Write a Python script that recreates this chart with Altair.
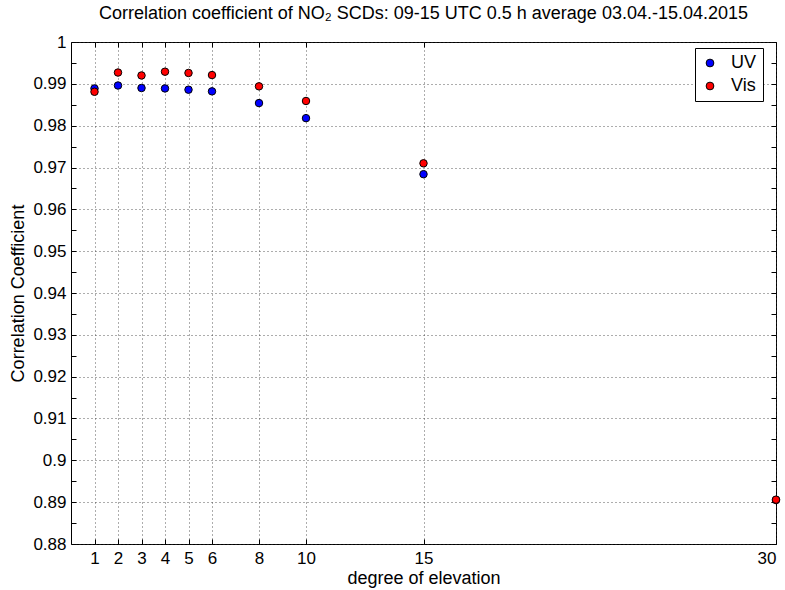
import altair as alt
import pandas as pd

elevation = [1, 2, 3, 4, 5, 6, 8, 10, 15, 30]
uv_corr = [0.9889, 0.9896, 0.9890, 0.9889, 0.9886, 0.9882, 0.9854, 0.9818, 0.9684, 0.8905]
vis_corr = [0.9881, 0.9927, 0.9920, 0.9929, 0.9926, 0.9921, 0.9894, 0.9859, 0.9710, 0.8906]
series = ["UV", "Vis"]
colors = ["#0000ff", "#ff0000"]
x_ticks = [1, 2, 3, 4, 5, 6, 8, 10, 15, 30]
y_major = [round(0.88 + 0.01 * i, 2) for i in range(13)]
y_minor = [round(0.88 + 0.005 * i, 3) for i in range(25)]

rows = []
for s, vals in zip(series, [uv_corr, vis_corr]):
    for e, v in zip(elevation, vals):
        rows.append({"elev": e, "corr": v, "series": s})
df = pd.DataFrame(rows)

W, H = 705, 502
TL = 5  # inward tick length
FONT = "Liberation Sans"

xscale = alt.Scale(domain=[0, 30], nice=False, zero=False)
yscale = alt.Scale(domain=[0.88, 1.0], nice=False, zero=False)

main = alt.Chart(df).mark_circle(size=56, opacity=1, stroke="black", strokeWidth=1, clip=False).encode(
    x=alt.X("elev:Q", scale=xscale, axis=alt.Axis(
        orient="bottom", values=x_ticks, title="degree of elevation", grid=True, ticks=False,
        domain=False, labelPadding=6, titlePadding=3, titleFontSize=18, format="d")),
    y=alt.Y("corr:Q", scale=yscale, axis=alt.Axis(
        orient="left", values=y_major, title="Correlation Coefficient", grid=True, ticks=False,
        domain=False, labelPadding=5, titlePadding=5, titleFontSize=18,
        labelExpr="format(datum.value, '.2~f')")),
    color=alt.Color("series:N", scale=alt.Scale(domain=series, range=colors),
                    sort=series,
                    legend=alt.Legend(title=None, orient="none", legendX=624, legendY=6,
                                      strokeColor="black", fillColor="white", padding=6,
                                      symbolType="circle", symbolSize=60,
                                      symbolStrokeColor="black", symbolStrokeWidth=1,
                                      labelFontSize=18, labelFont=FONT, rowPadding=5,
                                      labelOffset=12, cornerRadius=0)),
    order=alt.Order("series:N"),
)

# inward ticks along bottom and left edges
ticks_in1 = alt.Chart(df).mark_point(opacity=0).encode(
    x=alt.X("elev:Q", scale=xscale, axis=alt.Axis(
        orient="bottom", offset=-TL, values=x_ticks, labels=False, grid=False, domain=False,
        ticks=True, tickSize=TL, title=None)),
    y=alt.Y("corr:Q", scale=yscale, axis=alt.Axis(
        orient="left", offset=-TL, values=y_minor, labels=False, grid=False, domain=False,
        ticks=True, tickSize=TL, title=None)),
)
# inward ticks along top and right edges
ticks_in2 = alt.Chart(df).mark_point(opacity=0).encode(
    x=alt.X("elev:Q", scale=xscale, axis=alt.Axis(
        orient="bottom", offset=-H, values=x_ticks, labels=False, grid=False, domain=False,
        ticks=True, tickSize=TL, title=None)),
    y=alt.Y("corr:Q", scale=yscale, axis=alt.Axis(
        orient="left", offset=-W, values=y_minor, labels=False, grid=False, domain=False,
        ticks=True, tickSize=TL, title=None)),
)

chart = alt.layer(ticks_in1, ticks_in2, main).resolve_axis(
    x="independent", y="independent"
).properties(
    width=W, height=H,
    autosize=alt.AutoSizeParams(type="none"),
    padding={"left": 71, "top": 42, "right": 9, "bottom": 46},
    background="white",
    title=alt.TitleParams(
        "Correlation coefficient of NO\u2082 SCDs: 09-15 UTC 0.5 h average 03.04.-15.04.2015",
        anchor="middle", frame="group", font=FONT, fontSize=18, fontWeight="normal",
        color="black", offset=10),
).configure_view(
    stroke="black", strokeWidth=1
).configure_axis(
    labelFont=FONT, titleFont=FONT, labelFontSize=17, titleFontSize=17,
    labelColor="black", titleColor="black", titleFontWeight="normal",
    gridColor="#333333", gridDash=[1, 3], gridWidth=1, gridOpacity=0.8,
    tickColor="black", tickWidth=1,
)

chart.save("out.html", embed_options={"renderer": "svg", "actions": False})
